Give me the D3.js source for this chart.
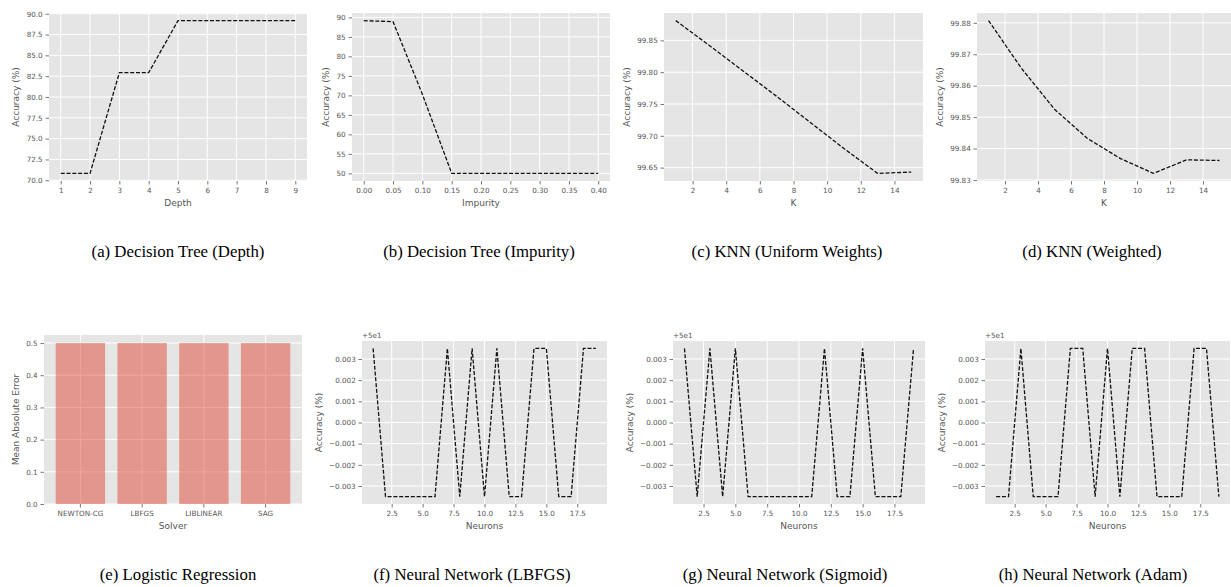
<!DOCTYPE html>
<html><head><meta charset="utf-8">
<script src="https://cdn.jsdelivr.net/npm/d3@7"></script>
<style>body{margin:0;background:#fff}svg{display:block}</style>
</head><body>
<svg id="chart" width="1231" height="587"></svg>
<script>
// ---------- data ----------
const depth = [1, 2, 3, 4, 5, 6, 7, 8, 9];
const depthAcc = [70.83, 70.83, 82.92, 82.92, 89.17, 89.17, 89.17, 89.17, 89.17];
const depthTicks = [1, 2, 3, 4, 5, 6, 7, 8, 9];
const depthAccTicks = [70, 72.5, 75, 77.5, 80, 82.5, 85, 87.5, 90];

const impurity = [0, 0.05, 0.10, 0.15, 0.20, 0.25, 0.30, 0.35, 0.40];
const impurityAcc = [89.17, 88.9, 70.3, 50.0, 50.0, 50.0, 50.0, 50.0, 50.0];
const impurityTicks = [0, 0.05, 0.10, 0.15, 0.20, 0.25, 0.30, 0.35, 0.40];
const impurityAccTicks = [50, 55, 60, 65, 70, 75, 80, 85, 90];

const kValues = [1, 3, 5, 7, 9, 11, 13, 15];
const knnUniformAcc = [99.881, 99.842, 99.802, 99.762, 99.721, 99.680, 99.641, 99.643];
const knnWeightedAcc = [99.8807, 99.8655, 99.8525, 99.8432, 99.8368, 99.8321, 99.8364, 99.8362];
const kTicks = [2, 4, 6, 8, 10, 12, 14];
const knnUniformTicks = [99.65, 99.70, 99.75, 99.80, 99.85];
const knnWeightedTicks = [99.83, 99.84, 99.85, 99.86, 99.87, 99.88];

const solvers = ["NEWTON-CG", "LBFGS", "LIBLINEAR", "SAG"];
const solverMAE = [0.5, 0.5, 0.5, 0.5];
const maeTicks = [0, 0.1, 0.2, 0.3, 0.4, 0.5];

const neurons = [1, 2, 3, 4, 5, 6, 7, 8, 9, 10, 11, 12, 13, 14, 15, 16, 17, 18, 19];
const nnLbfgsAcc   = [50.0035, 49.9965, 49.9965, 49.9965, 49.9965, 49.9965, 50.0035, 49.9965, 50.0035, 49.9965, 50.0035, 49.9965, 49.9965, 50.0035, 50.0035, 49.9965, 49.9965, 50.0035, 50.0035];
const nnSigmoidAcc = [50.0035, 49.9965, 50.0035, 49.9965, 50.0035, 49.9965, 49.9965, 49.9965, 49.9965, 49.9965, 49.9965, 50.0035, 49.9965, 49.9965, 50.0035, 49.9965, 49.9965, 49.9965, 50.0035];
const nnAdamAcc    = [49.9965, 49.9965, 50.0035, 49.9965, 49.9965, 49.9965, 50.0035, 50.0035, 49.9965, 50.0035, 49.9965, 50.0035, 50.0035, 49.9965, 49.9965, 49.9965, 50.0035, 50.0035, 49.9965];
const neuronTicks = [2.5, 5.0, 7.5, 10.0, 12.5, 15.0, 17.5];
const nnTicks = [49.997, 49.998, 49.999, 50.0, 50.001, 50.002, 50.003];
const nnOffset = 50;

const captions = ["(a) Decision Tree (Depth)", "(b) Decision Tree (Impurity)", "(c) KNN (Uniform Weights)", "(d) KNN (Weighted)",
                  "(e) Logistic Regression", "(f) Neural Network (LBFGS)", "(g) Neural Network (Sigmoid)", "(h) Neural Network (Adam)"];

// ---------- drawing ----------
const svg = d3.select("#chart");
const FONT = "'DejaVu Sans', sans-serif";
const TICK_FS = 7.2, LABEL_FS = 9, GREY = "#555555";
const minus = s => s.replace("-", "\u2212");

function padDomain(vals) {
  const [a, b] = d3.extent(vals);
  const m = (b - a) * 0.05;
  return [a - m, b + m];
}

function panel(o) {
  const [x0, y0, x1, y1] = o.rect;
  const g = svg.append("g");
  g.append("rect").attr("x", x0).attr("y", y0).attr("width", x1 - x0).attr("height", y1 - y0).attr("fill", "#E5E5E5");

  const x = o.xScale.range([x0, x1]);
  const y = d3.scaleLinear().domain(o.yDomain).range([y1, y0]);
  const xPos = o.band ? (d => x(d) + x.bandwidth() / 2) : (d => x(d));

  // grid
  g.append("g").selectAll("line").data(o.xTicks).join("line")
    .attr("x1", d => xPos(d)).attr("x2", d => xPos(d)).attr("y1", y0).attr("y2", y1)
    .attr("stroke", "#fff").attr("stroke-width", 1);
  g.append("g").selectAll("line").data(o.yTicks).join("line")
    .attr("x1", x0).attr("x2", x1).attr("y1", d => y(d)).attr("y2", d => y(d))
    .attr("stroke", "#fff").attr("stroke-width", 1);

  // marks
  if (o.band) {
    g.append("g").selectAll("rect").data(o.xs).join("rect")
      .attr("x", d => x(d)).attr("width", x.bandwidth())
      .attr("y", (d, i) => y(o.ys[i])).attr("height", (d, i) => y(0) - y(o.ys[i]))
      .attr("fill", "#E24A33").attr("fill-opacity", 0.5);
  } else {
    const line = d3.line().x((d, i) => x(o.xs[i])).y(d => y(d));
    g.append("path").datum(o.ys).attr("d", line).attr("fill", "none")
      .attr("stroke", "#111").attr("stroke-width", 1.3).attr("stroke-dasharray", "4,1.8");
  }

  // axes
  const xa = (o.band ? d3.axisBottom(x) : d3.axisBottom(x).tickValues(o.xTicks).tickFormat(o.xFmt))
    .tickSize(3.5).tickPadding(3.5);
  const gx = g.append("g").attr("transform", `translate(0,${y1})`).call(xa);
  const ya = d3.axisLeft(y).tickValues(o.yTicks).tickFormat(o.yFmt).tickSize(3.5).tickPadding(2.8);
  const gy = g.append("g").attr("transform", `translate(${x0},0)`).call(ya);
  [gx, gy].forEach(a => {
    a.select(".domain").remove();
    a.selectAll("line").attr("stroke", GREY).attr("stroke-width", 0.8);
    a.selectAll("text").attr("fill", GREY).attr("font-family", FONT).attr("font-size", TICK_FS);
  });
  let maxW = 0;
  gy.selectAll("text").each(function () { maxW = Math.max(maxW, this.getComputedTextLength()); });

  g.append("text").attr("x", (x0 + x1) / 2).attr("y", y1 + 24.5).attr("text-anchor", "middle")
    .attr("font-family", FONT).attr("font-size", LABEL_FS).attr("fill", GREY).text(o.xlabel);
  const lx = x0 - (6.3 + maxW + 7.4);
  g.append("text").attr("transform", `translate(${lx},${(y0 + y1) / 2}) rotate(-90)`).attr("text-anchor", "middle")
    .attr("font-family", FONT).attr("font-size", LABEL_FS).attr("fill", GREY).text(o.ylabel);

  if (o.offsetText) {
    g.append("text").attr("x", x0).attr("y", y0 - 3).attr("font-family", FONT).attr("font-size", TICK_FS)
      .attr("fill", GREY).text(o.offsetText);
  }

  svg.append("text").attr("x", o.capX).attr("y", o.capY).attr("text-anchor", "middle")
    .attr("font-family", "'Liberation Serif', 'Times New Roman', serif").attr("font-size", 16.8).attr("fill", "#000")
    .text(o.caption);
}

const f1 = d3.format(".1f"), f2 = d3.format(".2f"), fd = d3.format("d");
const nnFmt = d => minus((d - nnOffset).toFixed(3));

panel({ rect: [49, 13, 307, 181], xScale: d3.scaleLinear().domain(padDomain(depth)),
  xs: depth, ys: depthAcc, xTicks: depthTicks, yTicks: depthAccTicks, yDomain: padDomain(depthAcc),
  xFmt: fd, yFmt: f1, xlabel: "Depth", ylabel: "Accuracy (%)", caption: captions[0], capX: 178, capY: 257 });

panel({ rect: [352, 13, 610, 181], xScale: d3.scaleLinear().domain(padDomain(impurity)),
  xs: impurity, ys: impurityAcc, xTicks: impurityTicks, yTicks: impurityAccTicks, yDomain: padDomain(impurityAcc),
  xFmt: f2, yFmt: fd, xlabel: "Impurity", ylabel: "Accuracy (%)", caption: captions[1], capX: 479, capY: 257 });

panel({ rect: [664, 13, 923, 181], xScale: d3.scaleLinear().domain(padDomain(kValues)),
  xs: kValues, ys: knnUniformAcc, xTicks: kTicks, yTicks: knnUniformTicks, yDomain: padDomain(knnUniformAcc),
  xFmt: fd, yFmt: f2, xlabel: "K", ylabel: "Accuracy (%)", caption: captions[2], capX: 787, capY: 257 });

panel({ rect: [977, 13, 1231, 181], xScale: d3.scaleLinear().domain(padDomain(kValues)),
  xs: kValues, ys: knnWeightedAcc, xTicks: kTicks, yTicks: knnWeightedTicks, yDomain: padDomain(knnWeightedAcc),
  xFmt: fd, yFmt: f2, xlabel: "K", ylabel: "Accuracy (%)", caption: captions[3], capX: 1092, capY: 257 });

panel({ rect: [44, 335, 302, 504], band: true,
  xScale: d3.scaleBand().domain(solvers).paddingInner(0.2).paddingOuter(0.19),
  xs: solvers, ys: solverMAE, xTicks: solvers, yTicks: maeTicks, yDomain: [0, d3.max(solverMAE) * 1.05],
  yFmt: f1, xlabel: "Solver", ylabel: "Mean Absolute Error", caption: captions[4], capX: 178, capY: 580 });

const nnSets = [nnLbfgsAcc, nnSigmoidAcc, nnAdamAcc];
const nnRects = [[362, 341, 607, 504], [673, 341, 925, 504], [985, 341, 1230, 504]];
const nnCapX = [472, 785, 1093];
nnSets.forEach((ys, i) => panel({ rect: nnRects[i], xScale: d3.scaleLinear().domain(padDomain(neurons)),
  xs: neurons, ys: ys, xTicks: neuronTicks, yTicks: nnTicks, yDomain: padDomain(ys),
  xFmt: f1, yFmt: nnFmt, xlabel: "Neurons", ylabel: "Accuracy (%)", offsetText: "+5e1",
  caption: captions[5 + i], capX: nnCapX[i], capY: 580 }));
</script>
</body></html>
